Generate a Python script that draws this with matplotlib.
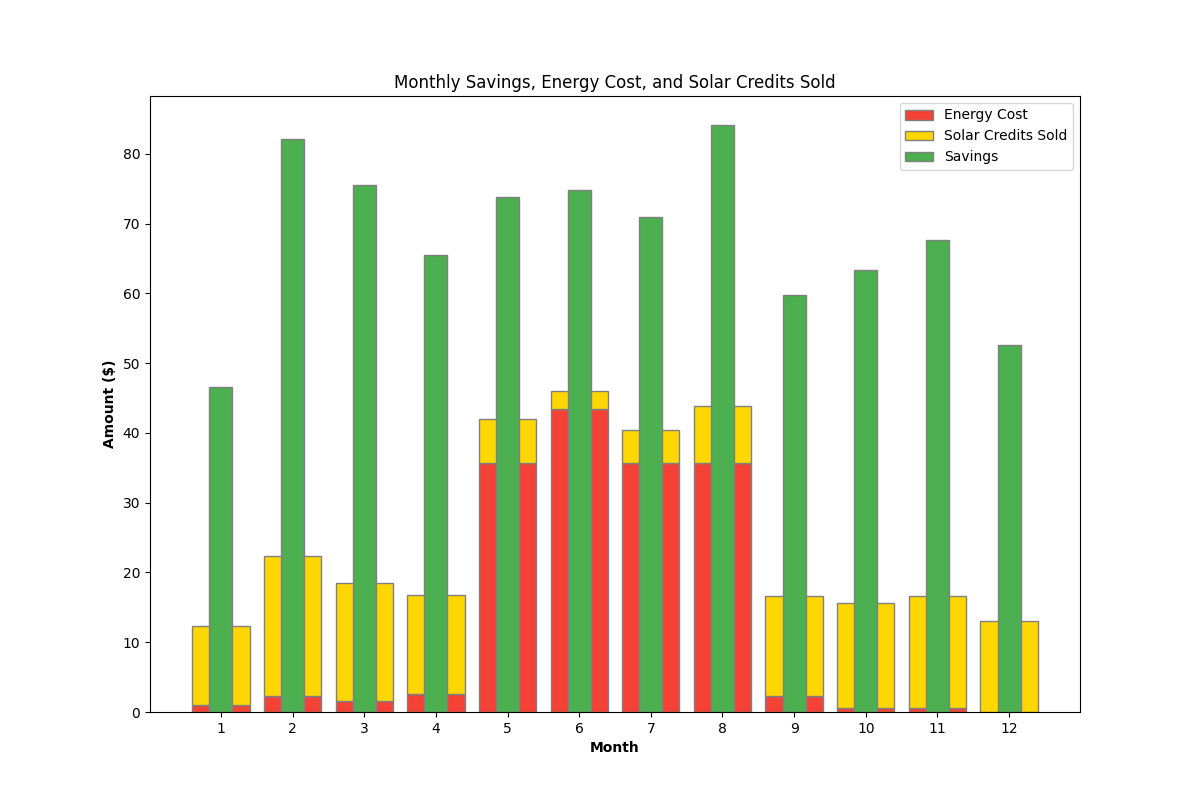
import matplotlib
matplotlib.use("Agg")
import matplotlib.pyplot as plt
import numpy as np

months = [1, 2, 3, 4, 5, 6, 7, 8, 9, 10, 11, 12]
energy_cost = [1.0, 2.3, 1.6, 2.6, 35.7, 43.4, 35.7, 35.7, 2.3, 0.6, 0.6, 0.0]
solar_credits = [11.3, 20.0, 16.9, 14.2, 6.3, 2.6, 4.7, 8.1, 14.3, 15.0, 16.0, 13.1]
savings = [46.6, 82.1, 75.5, 65.5, 73.8, 74.8, 70.9, 84.1, 59.8, 63.3, 67.6, 52.6]

fig, ax = plt.subplots(figsize=(12, 8), dpi=100)
x = np.array(months)
ax.bar(x, energy_cost, width=0.8, color="#F44336", edgecolor="grey", label="Energy Cost")
ax.bar(x, solar_credits, width=0.8, bottom=energy_cost, color="#FFD700", edgecolor="grey", label="Solar Credits Sold")
ax.bar(x, savings, width=0.32, color="#4CAF50", edgecolor="grey", label="Savings")
ax.set_xticks(x)
ax.set_xticklabels([str(m) for m in months])
ax.set_xlabel("Month", fontweight="bold")
ax.set_ylabel("Amount ($)", fontweight="bold")
ax.set_title("Monthly Savings, Energy Cost, and Solar Credits Sold")
ax.legend(loc="upper right")
fig.savefig("out.png")
